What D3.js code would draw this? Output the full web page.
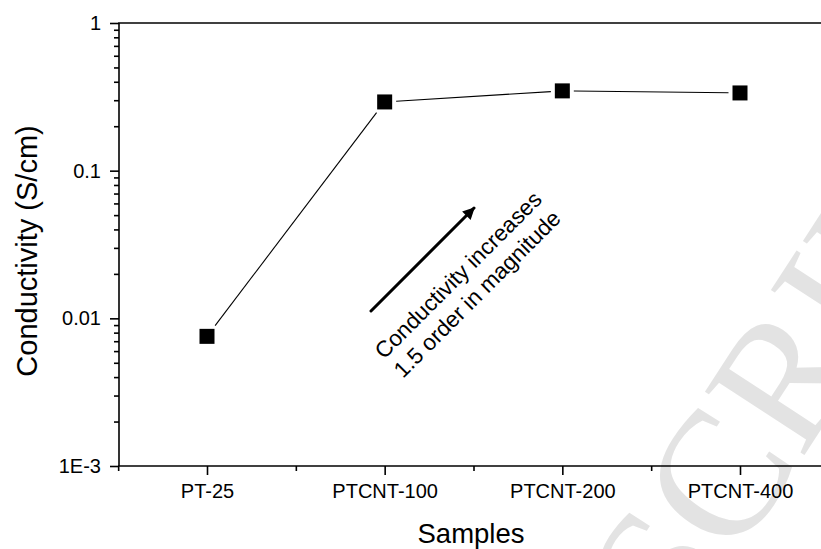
<!DOCTYPE html>
<html>
<head>
<meta charset="utf-8">
<script src="https://cdn.jsdelivr.net/npm/d3@7"></script>
<style>
  html, body { margin: 0; padding: 0; background: #fff; }
  svg { display: block; font-family: "Liberation Sans", Arial, sans-serif; }
</style>
</head>
<body>
<svg id="chart" width="821" height="549"></svg>
<script>
// ---- data ----
const categories = ["PT-25", "PTCNT-100", "PTCNT-200", "PTCNT-400"];
const conductivity = [0.00755, 0.292, 0.347, 0.336];
const yTickValues = [0.001, 0.01, 0.1, 1];
const yTickLabels = ["1E-3", "0.01", "0.1", "1"];
const annotationLines = ["Conductivity increases", "1.5 order in magnitude"];
const watermark = "ACCEPTED MANUSCRIPT";

(function () {
// ---- layout ----
const plotLeft = 119, plotTop = 23, plotBottom = 466;
const svg = d3.select("#chart");

const x = d3.scaleLinear().domain([0, 3]).range([207, 740]);
const xMin = -0.5, xMax = 4.0;
const y = d3.scaleLog().domain([1e-3, 1]).range([plotBottom, plotTop]);

// ---- watermark ----
{
  const fs = 180;
  const tmp = svg.append("text").attr("font-family", "Liberation Serif, serif").attr("font-size", fs).text("ACCEPTED MANU");
  const pre = tmp.node().getComputedTextLength();
  tmp.remove();
  svg.append("g")
    .attr("transform", "translate(681,645) rotate(-57)")
    .append("text")
    .attr("x", -pre).attr("y", 0)
    .attr("font-family", "Liberation Serif, serif")
    .attr("font-size", fs)
    .attr("fill", "#e3e3e3")
    .text(watermark);
}

// ---- axes ----
const g = svg.append("g");
g.append("line").attr("x1", x(xMin)).attr("x2", x(xMax)).attr("y1", plotBottom).attr("y2", plotBottom).attr("stroke", "#000").attr("stroke-width", 1.6);
g.append("line").attr("x1", x(xMin)).attr("x2", x(xMax)).attr("y1", plotTop).attr("y2", plotTop).attr("stroke", "#000").attr("stroke-width", 1.6);
g.append("line").attr("x1", plotLeft).attr("x2", plotLeft).attr("y1", plotTop).attr("y2", plotBottom).attr("stroke", "#000").attr("stroke-width", 1.6);

// x axis
const xMajor = d3.range(categories.length);
const xMinor = [-0.5, 0.5, 1.5, 2.5, 3.5];
const xAxis = d3.axisBottom(x).tickValues(xMajor).tickSize(9).tickPadding(9)
  .tickFormat(i => categories[i]);
const gx = g.append("g").attr("transform", `translate(0,${plotBottom})`).call(xAxis);
gx.select(".domain").remove();
gx.selectAll(".tick line").attr("stroke-width", 1.6);
gx.selectAll(".tick text").attr("font-size", 20).attr("font-family", "Liberation Sans, Arial, sans-serif");
const gxm = g.append("g").attr("transform", `translate(0,${plotBottom})`)
  .call(d3.axisBottom(x).tickValues(xMinor).tickSize(5).tickFormat(""));
gxm.select(".domain").remove();
gxm.selectAll(".tick line").attr("stroke-width", 1.6);

// y axis
const yAxis = d3.axisLeft(y).tickValues(yTickValues).tickSize(9).tickPadding(9)
  .tickFormat((d, i) => yTickLabels[i]);
const gy = g.append("g").attr("transform", `translate(${plotLeft},0)`).call(yAxis);
gy.select(".domain").remove();
gy.selectAll(".tick line").attr("stroke-width", 1.6);
gy.selectAll(".tick text").attr("font-size", 20).attr("font-family", "Liberation Sans, Arial, sans-serif");
const yMinor = [];
[0.001, 0.01, 0.1].forEach(dec => { for (let k = 2; k <= 9; k++) yMinor.push(dec * k); });
const gym = g.append("g").attr("transform", `translate(${plotLeft},0)`)
  .call(d3.axisLeft(y).tickValues(yMinor).tickSize(5).tickFormat(""));
gym.select(".domain").remove();
gym.selectAll(".tick line").attr("stroke-width", 1.6);

// axis titles
svg.append("text").attr("x", 471).attr("y", 543).attr("text-anchor", "middle")
  .attr("font-size", 27.5).text("Samples");
svg.append("text").attr("transform", "translate(37,251) rotate(-90)").attr("text-anchor", "middle")
  .attr("font-size", 29).text("Conductivity (S/cm)");

// ---- data line with gaps around markers ----
const pts = conductivity.map((v, i) => [x(i), y(v)]);
const half = 7.5, gap = 4;
for (let i = 0; i < pts.length - 1; i++) {
  const [x0, y0] = pts[i], [x1, y1] = pts[i + 1];
  const dx = x1 - x0, dy = y1 - y0, L = Math.hypot(dx, dy);
  const ux = dx / L, uy = dy / L;
  const t = half / Math.max(Math.abs(ux), Math.abs(uy)) + gap;
  svg.append("line")
    .attr("x1", x0 + ux * t).attr("y1", y0 + uy * t)
    .attr("x2", x1 - ux * t).attr("y2", y1 - uy * t)
    .attr("stroke", "#000").attr("stroke-width", 1.1);
}
svg.selectAll("rect.pt").data(conductivity).enter().append("rect")
  .attr("class", "pt")
  .attr("x", (d, i) => x(i) - half).attr("y", d => y(d) - half)
  .attr("width", half * 2).attr("height", half * 2)
  .attr("fill", "#000");

// ---- annotation arrow ----
svg.append("defs").append("marker").attr("id", "ah")
  .attr("viewBox", "0 0 10 10").attr("refX", 9).attr("refY", 5)
  .attr("markerWidth", 5).attr("markerHeight", 4).attr("orient", "auto")
  .attr("markerUnits", "strokeWidth")
  .append("path").attr("d", "M0,0 L10,5 L0,10 z").attr("fill", "#000");
svg.append("line").attr("x1", 371).attr("y1", 311).attr("x2", 474).attr("y2", 208)
  .attr("stroke", "#000").attr("stroke-width", 3).attr("stroke-linecap", "round")
  .attr("marker-end", "url(#ah)");

svg.append("text").attr("transform", "translate(384,360) rotate(-45)")
  .attr("font-size", 22.5).text(annotationLines[0]);
svg.append("text").attr("transform", "translate(403,379) rotate(-45)")
  .attr("font-size", 22.5).text(annotationLines[1]);
})();
</script>
</body>
</html>
